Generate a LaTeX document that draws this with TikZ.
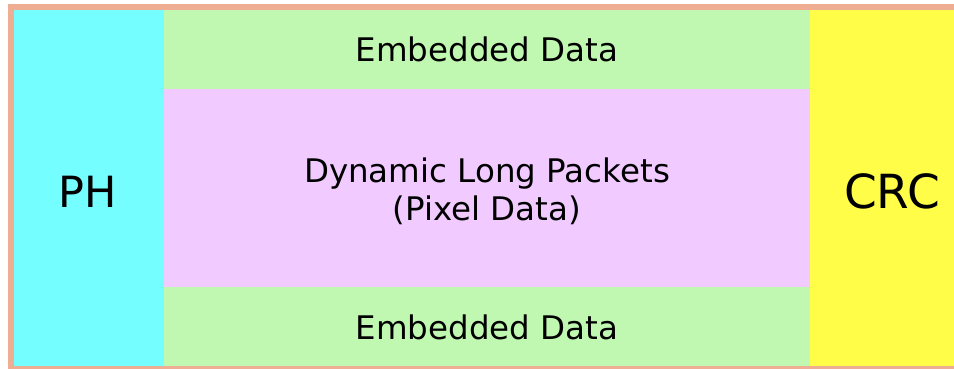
\documentclass[tikz,border=0pt]{standalone}
\usepackage{fontspec}
\setmainfont{DejaVu Sans}
\definecolor{phcyan}{HTML}{75FEFF}
\definecolor{edgreen}{HTML}{C1F8B1}
\definecolor{dlpink}{HTML}{F1CBFF}
\definecolor{crcyellow}{HTML}{FFFD47}
\definecolor{frame}{HTML}{EFAE94}
\begin{document}
\begin{tikzpicture}[x=1pt,y=-1pt,
  band/.style={draw=none, inner sep=0pt, outer sep=0pt, anchor=north west},
  lbl/.style={inner sep=0pt, anchor=base, text=black}]
\useasboundingbox[fill=white] (0,0) rectangle (954,368);
\fill[frame] (8,4) rectangle (980,372);
\node[band, fill=phcyan, minimum width=150pt, minimum height=356pt] (ph) at (14,10) {};
\node[band, fill=edgreen, minimum width=646pt, minimum height=79pt] (edtop) at (164,10) {};
\node[band, fill=dlpink, minimum width=646pt, minimum height=198pt] (dlp) at (164,89) {};
\node[band, fill=edgreen, minimum width=646pt, minimum height=79pt] (edbot) at (164,287) {};
\node[band, fill=crcyellow, minimum width=164pt, minimum height=356pt] (crc) at (810,10) {};
\node[lbl, font=\fontsize{32.5}{38}\selectfont] (t1) at (487,61) {Embedded Data};
\node[lbl, font=\fontsize{32.5}{38}\selectfont] (t2) at (487,182) {Dynamic Long Packets};
\node[lbl, font=\fontsize{32.5}{38}\selectfont] (t3) at (487,220) {(Pixel Data)};
\node[lbl, font=\fontsize{32.5}{38}\selectfont] (t4) at (487,339) {Embedded Data};
\node[lbl, font=\fontsize{43}{50}\selectfont] (t5) at (88,207) {PH};
\node[lbl, font=\fontsize{47}{52}\selectfont] (t6) at (892,208) {CRC};
\end{tikzpicture}
\end{document}
